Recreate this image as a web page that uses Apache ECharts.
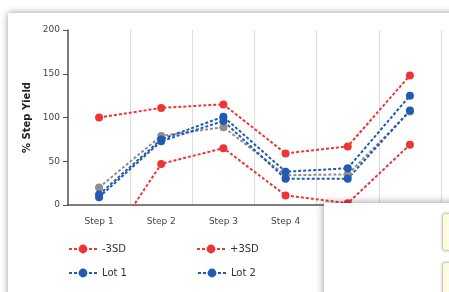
<!DOCTYPE html>
<html>
<head>
<meta charset="utf-8">
<script src="https://cdn.jsdelivr.net/npm/echarts@6/dist/echarts.min.js"></script>
<style>
  html, body { margin: 0; padding: 0; background: #fff; overflow: hidden; }
  #card {
    position: absolute; left: 8px; top: 13px; width: 600px; height: 400px;
    background: #fff; box-shadow: 0 0 7px rgba(0,0,0,0.4);
  }
  #yield { position: absolute; left: 0; top: 0; width: 449px; height: 292px; }
  #panel {
    position: absolute; left: 324px; top: 203px; width: 300px; height: 200px;
    background: #fff; box-shadow: -1px -1px 7px rgba(0,0,0,0.35);
  }
  .note {
    position: absolute; left: 118px; width: 100px;
    background: #fdfbe2; border: 1px solid #cfcbb0; border-radius: 3px;
    box-shadow: 0 0 3px rgba(0,0,0,0.25);
  }
</style>
</head>
<body>
<div id="card"></div>
<div id="yield"></div>
<div id="panel">
  <div class="note" style="top:10px;height:36px;"></div>
  <div class="note" style="top:59px;height:60px;"></div>
</div>
<script>
  // steps and yields
  var steps = ['Step 1', 'Step 2', 'Step 3', 'Step 4', 'Step 5', 'Step 6'];
  var yTicks = [0, 50, 100, 150, 200];
  var minus3sd = [-60, 47, 65, 11, 2, 69];
  var plus3sd = [100, 111, 115, 59, 67, 148];
  var mean = [20, 79, 89, 34, 35, 107];
  var lot1 = [12, 75, 101, 38, 42, 125];
  var lot2 = [9, 73, 96, 30, 30, 108];

  var red = '#ee3535', blue = '#2159b3', grey = '#8e8e8e';

  function line(name, data, color) {
    return {
      name: name,
      type: 'line',
      data: data,
      symbol: 'circle',
      symbolSize: 8,
      clip: true,
      itemStyle: { color: color },
      lineStyle: { color: color, width: 2, type: [3, 2] }
    };
  }

  var legendText = { fontFamily: 'DejaVu Sans', fontSize: 10, color: '#333' };

  var chart = echarts.init(document.getElementById('yield'));
  chart.setOption({
    animation: false,
    backgroundColor: 'transparent',
    grid: { left: 68, right: 8, top: 30, bottom: 87 },
    legend: [{
      data: ['-3SD', '+3SD', 'Mean'],
      left: 63, top: 239, itemWidth: 28, itemHeight: 11, itemGap: 70,
      textStyle: legendText
    }, {
      data: ['Lot 1', 'Lot 2'],
      left: 63, top: 263, itemWidth: 28, itemHeight: 11, itemGap: 70,
      textStyle: legendText
    }],
    xAxis: {
      type: 'category',
      data: steps,
      axisLine: { lineStyle: { color: '#555', width: 1.5 } },
      axisTick: { alignWithLabel: true, length: 5, lineStyle: { color: '#555' } },
      axisLabel: { margin: 12, fontFamily: 'DejaVu Sans', fontSize: 9, color: '#444' },
      splitLine: { show: true, lineStyle: { color: '#dcdcdc' } }
    },
    yAxis: {
      type: 'value',
      min: yTicks[0],
      max: yTicks[yTicks.length - 1],
      interval: 50,
      name: '% Step Yield',
      nameLocation: 'middle',
      nameGap: 31,
      nameTextStyle: { fontFamily: 'DejaVu Sans', fontSize: 10, fontWeight: 'bold', color: '#222' },
      axisLine: { show: true, lineStyle: { color: '#555', width: 1.5 } },
      axisTick: { show: true, length: 5, lineStyle: { color: '#555' } },
      axisLabel: { margin: 8, fontFamily: 'DejaVu Sans', fontSize: 9, color: '#444' },
      splitLine: { show: false }
    },
    series: [
      line('Mean', mean, grey),
      line('Lot 1', lot1, blue),
      line('Lot 2', lot2, blue),
      line('-3SD', minus3sd, red),
      line('+3SD', plus3sd, red)
    ]
  });
</script>
</body>
</html>
